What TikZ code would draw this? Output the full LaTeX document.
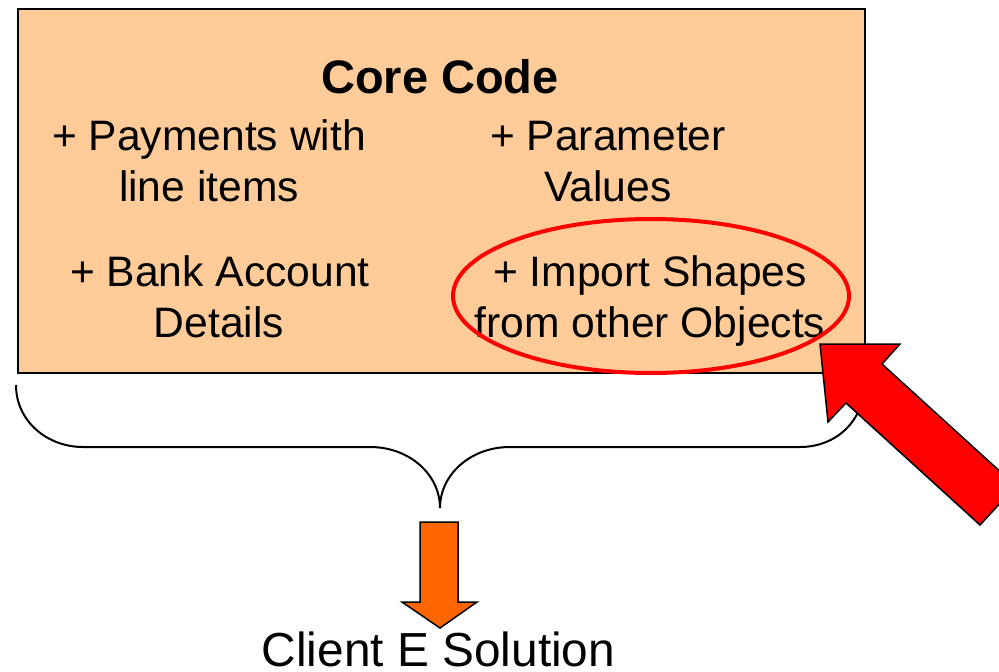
\documentclass[tikz,border=0pt]{standalone}
\usepackage{fontspec}
\setmainfont{Liberation Sans}
\definecolor{peach}{HTML}{FFCC99}
\definecolor{blockorange}{HTML}{FF6600}
\definecolor{hired}{HTML}{FF0000}
\begin{document}
\begin{tikzpicture}[x=1pt,y=-1pt,
  itemtext/.style={anchor=base,inner sep=0pt,font=\fontsize{42.6}{50}\selectfont},
  titletext/.style={anchor=base,inner sep=0pt,font=\fontsize{47}{54}\selectfont\bfseries},
  clienttext/.style={anchor=base,inner sep=0pt,text depth=0pt,font=\fontsize{47.8}{54}\selectfont},
  blockarrow/.style={draw=black,line width=1.5pt,line join=miter}]
\useasboundingbox (0,0) rectangle (999,672);
% core box
\node[draw=black,line width=1.5pt,fill=peach,minimum width=847pt,minimum height=364pt,inner sep=0pt,anchor=north west] (core) at (17,8) {};
\node[titletext] (title) at (440,93) {Core Code};
\node[itemtext] (pay1) at (209,150) {+ Payments with};
\node[itemtext] (pay2) at (209,201) {line items};
\node[itemtext] (par1) at (608,150) {+ Parameter};
\node[itemtext] (par2) at (608,201) {Values};
\node[itemtext] (bank1) at (220,286) {+ Bank Account};
\node[itemtext] (bank2) at (219,337) {Details};
\node[itemtext] (imp1) at (650,286) {+ Import Shapes};
\node[itemtext] (imp2) at (650,337) {from other Objects};
% red ellipse
\draw[hired,line width=4pt] (651,296) ellipse [x radius=198, y radius=77];
% brace
\coordinate (bl) at (16,385);
\coordinate (br) at (864,385);
\coordinate (btip) at (440,508);
\draw[line width=2pt] (bl) .. controls (16,421) and (47,447) .. (83,447) -- (370,447)
  .. controls (410,447) and (440,475) .. (btip)
  .. controls (440,475) and (470,447) .. (510,447) -- (800,447)
  .. controls (836,447) and (864,421) .. (br);
% orange arrow
\draw[blockarrow,fill=blockorange] (420,522) -- (458,522) -- (458,602) -- (477,602) -- (440,628) -- (402,602) -- (420,602) -- cycle;
% red arrow
\draw[blockarrow,fill=hired] (820,344) -- (900,344) -- (882,364) -- (1016,486) -- (980,525) -- (846,403) -- (828,422) -- cycle;
% client label
\node[clienttext] (client) at (438.5,666) {Client E Solution};
\end{tikzpicture}
\end{document}
